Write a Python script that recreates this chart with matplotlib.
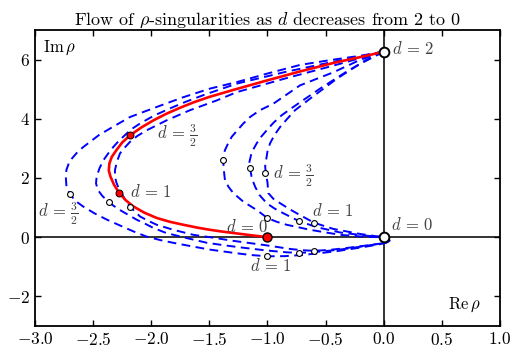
import numpy as np
import matplotlib
matplotlib.use("Agg")
import matplotlib.pyplot as plt

plt.rcParams['font.family'] = ['cmr10', 'DejaVu Serif']
plt.rcParams['mathtext.fontset'] = 'cm'
plt.rcParams['axes.formatter.use_mathtext'] = True
plt.rcParams['axes.unicode_minus'] = True

# main flow (solid red), d from 2 to 0
red_x = [0, -0.15, -0.43, -0.72, -1.01, -1.29, -1.50, -1.64, -1.76, -1.87, -1.98, -2.08, -2.18, -2.25, -2.30, -2.34, -2.36, -2.365, -2.35, -2.32, -2.275,
         -2.22, -2.154, -2.06, -1.953, -1.84, -1.724, -1.60, -1.495, -1.39, -1.29, -1.15, -1.00]
red_y = [6.27, 6.13, 5.89, 5.60, 5.29, 4.98, 4.74, 4.55, 4.36, 4.17, 3.95, 3.72, 3.45, 3.20, 2.94, 2.71, 2.49, 2.25, 2.04, 1.77, 1.49,
         1.25, 1.04, 0.83, 0.65, 0.52, 0.42, 0.32, 0.25, 0.19, 0.14, 0.07, 0.0]

# outer dashed branches
a1_x = [0, -0.20, -0.45, -0.72, -1.00, -1.265, -1.495, -1.724, -1.953, -2.183, -2.355, -2.45, -2.527, -2.59, -2.64, -2.68, -2.71, -2.73, -2.735, -2.73,
        -2.70, -2.65, -2.585, -2.49, -2.38, -2.26, -2.15, -2.04, -1.92, -1.81, -1.65, -1.495, -1.29, -1.15, -1.0, -0.85, -0.70, -0.55,
        -0.40, -0.20, -0.05, 0.02, 0.05, 0.05, 0]
a1_y = [6.27, 6.13, 5.99, 5.82, 5.53, 5.24, 5.02, 4.73, 4.40, 4.06, 3.67, 3.45, 3.22, 3.03, 2.85, 2.67, 2.49, 2.27, 2.04, 1.75,
        1.45, 1.22, 1.035, 0.81, 0.59, 0.38, 0.19, 0.02, -0.10, -0.19, -0.31, -0.42, -0.53, -0.60, -0.645, -0.64, -0.60, -0.54,
        -0.47, -0.35, -0.25, -0.19, -0.13, -0.06, 0]
a2_x = [0, -0.43, -0.85, -1.262, -1.538, -1.70, -1.84, -1.98, -2.097, -2.17, -2.226, -2.28, -2.326, -2.37, -2.41, -2.445, -2.47, -2.475, -2.46, -2.42,
        -2.366, -2.32, -2.27, -2.20, -2.125, -2.05, -1.98, -1.87, -1.695, -1.52, -1.36, -1.2, -1.07, -0.95, -0.84, -0.73, -0.59, -0.45,
        -0.32, -0.2, -0.05, 0.02, 0.05, 0.05, 0]
a2_y = [6.27, 5.93, 5.58, 5.19, 4.82, 4.58, 4.35, 4.10, 3.84, 3.65, 3.45, 3.25, 3.05, 2.83, 2.61, 2.33, 2.04, 1.82, 1.6, 1.39,
        1.19, 1.05, 0.92, 0.76, 0.59, 0.45, 0.31, 0.14, -0.03, -0.19, -0.28, -0.36, -0.42, -0.47, -0.51, -0.53, -0.50, -0.45,
        -0.39, -0.32, -0.23, -0.18, -0.12, -0.05, 0]
a3_x = [0, -0.43, -0.85, -1.265, -1.437, -1.667, -1.867, -2.04, -2.12, -2.183, -2.23, -2.269, -2.295, -2.312, -2.312, -2.30, -2.28, -2.25, -2.22,
        -2.18, -2.14, -2.096, -2.03, -1.953, -1.81, -1.638, -1.495, -1.3, -1.15, -1.0, -0.8, -0.70, -0.60, -0.47, -0.35, -0.15, 0.0, 0.04, 0.05, 0.03, 0]
a3_y = [6.27, 5.80, 5.36, 4.90, 4.62, 4.29, 3.95, 3.61, 3.42, 3.22, 3.02, 2.83, 2.55, 2.27, 2.05, 1.85, 1.65, 1.45, 1.24,
        1.03, 0.86, 0.70, 0.56, 0.42, 0.25, 0.08, 0.0, -0.12, -0.20, -0.28, -0.40, -0.44, -0.46, -0.43, -0.38, -0.28, -0.2, -0.15, -0.10, -0.04, 0]

# inner dashed branches
b1_x = [0, -0.204, -0.434, -0.72, -0.95, -1.065, -1.15, -1.208, -1.26, -1.308, -1.34, -1.366, -1.378, -1.38, -1.378, -1.366, -1.335, -1.294,
        -1.208, -1.093, -1.0, -0.92, -0.835, -0.634, -0.376, -0.147, 0]
b1_y = [6.27, 5.99, 5.57, 5.13, 4.51, 4.29, 4.06, 3.84, 3.61, 3.39, 3.16, 2.94, 2.77, 2.60, 2.35, 1.93, 1.70, 1.49,
        1.20, 0.92, 0.645, 0.52, 0.42, 0.25, 0.08, 0.01, 0]
b2_x = [0, -0.176, -0.305, -0.548, -0.778, -0.878, -0.95, -1.007, -1.055, -1.093, -1.12, -1.14, -1.155, -1.155, -1.15, -1.135, -1.107, -1.07,
        -1.007, -0.94, -0.864, -0.73, -0.577, -0.376, -0.147, 0]
b2_y = [6.27, 5.91, 5.63, 5.02, 4.40, 4.12, 3.86, 3.61, 3.39, 3.17, 2.98, 2.80, 2.55, 2.40, 2.33, 2.00, 1.71, 1.43,
        1.15, 0.97, 0.81, 0.545, 0.34, 0.16, 0.05, 0]
b3_x = [0, -0.161, -0.405, -0.634, -0.763, -0.83, -0.892, -0.94, -0.978, -1.0, -1.01, -1.02, -1.015, -1.0, -0.993, -0.95, -0.892,
        -0.82, -0.749, -0.60, -0.434, -0.204, -0.08, 0]
b3_y = [6.27, 5.97, 5.35, 4.68, 4.29, 4.00, 3.72, 3.45, 3.17, 2.90, 2.65, 2.40, 2.16, 1.85, 1.49, 1.30, 1.15,
        0.97, 0.81, 0.49, 0.28, 0.11, 0.04, 0]

# marked points
red_mark_x = [-2.18, -2.275]
red_mark_y = [3.45, 1.49]
open_x = [-2.70, -2.366, -2.18, -1.38, -1.15, -1.02, -1.0, -0.73, -0.60, -1.0, -0.73, -0.60]
open_y = [1.45, 1.19, 1.03, 2.60, 2.33, 2.16, 0.645, 0.545, 0.49, -0.645, -0.53, -0.46]
end_x = [0, 0]
end_y = [6.27, 0]

fig = plt.figure(figsize=(5.2, 3.56), dpi=100)
ax = fig.add_axes([0.0673, 0.0843, 0.8942, 0.8314])

ax.axhline(0, color='0.2', lw=1.4, zorder=1)
ax.axvline(0, color='0.2', lw=1.4, zorder=1)

for xs, ys in [(a1_x, a1_y), (a2_x, a2_y), (a3_x, a3_y), (b1_x, b1_y), (b2_x, b2_y), (b3_x, b3_y)]:
    ax.plot(xs, ys, color='b', lw=1.4, dashes=[4.5, 2.8], zorder=2)
ax.plot(red_x, red_y, color='r', lw=1.9, zorder=3)

ax.plot(open_x, open_y, 'o', ms=4.2, mfc='w', mec='k', mew=0.8, zorder=4)
ax.plot(red_mark_x, red_mark_y, 'o', ms=5, mfc='r', mec='k', mew=0.7, zorder=4)
ax.plot([-1.0], [0.0], 'o', ms=6.5, mfc='r', mec='k', mew=1.0, zorder=5)
ax.plot(end_x, end_y, 'o', ms=7, mfc='w', mec='k', mew=1.4, zorder=5)

tc = '0.25'
fs = 12
ax.text(-2.93, 6.4, r'$\mathrm{Im}\,\rho$', fontsize=fs, va='center', ha='left')
ax.text(0.55, -2.27, r'$\mathrm{Re}\,\rho$', fontsize=fs, va='center', ha='left')
ax.text(0.07, 6.37, r'$d\,=\,2$', fontsize=fs, va='center', color=tc)
ax.text(0.06, 0.42, r'$d\,=\,0$', fontsize=fs, va='center', color=tc)
ax.text(-1.355, 0.36, r'$d\,=\,0$', fontsize=fs, va='center', color=tc)
ax.text(-2.18, 1.53, r'$d\,=\,1$', fontsize=fs, va='center', color=tc)
ax.text(-1.95, 3.42, r'$d\,=\,\frac{3}{2}$', fontsize=fs, va='center', color=tc)
ax.text(-2.97, 0.79, r'$d\,=\,\frac{3}{2}$', fontsize=fs, va='center', color=tc)
ax.text(-0.95, 2.07, r'$d\,=\,\frac{3}{2}$', fontsize=fs, va='center', color=tc)
ax.text(-0.62, 0.89, r'$d\,=\,1$', fontsize=fs, va='center', color=tc)
ax.text(-1.15, -0.97, r'$d\,=\,1$', fontsize=fs, va='center', color=tc)

ax.set_xlim(-3, 1)
ax.set_ylim(-3, 7)
ax.set_xticks(np.arange(-3, 1.01, 0.5))
ax.set_yticks([-2, 0, 2, 4, 6])
ax.xaxis.set_major_formatter(matplotlib.ticker.FormatStrFormatter(r'$%.1f$'))
ax.yaxis.set_major_formatter(matplotlib.ticker.FormatStrFormatter(r'$%d$'))
ax.tick_params(direction='in', top=True, right=True, length=4, width=1, labelsize=12.5)
for s in ax.spines.values():
    s.set_linewidth(1.3)
ax.set_title(r'Flow of $\rho$-singularities as $d$ decreases from 2 to 0', fontsize=13, pad=4)

fig.savefig('out.png', dpi=100)
